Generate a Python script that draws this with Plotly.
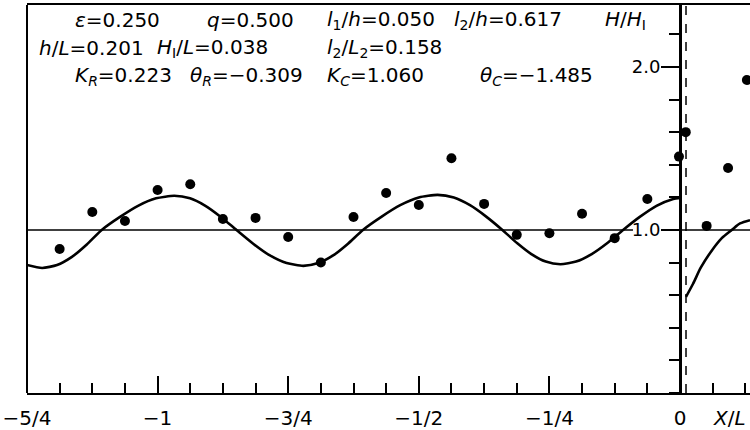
import plotly.graph_objects as go

# ---------------- data ----------------
dots_x = [-1.1875, -1.125, -1.0625, -1.0, -0.9375, -0.875, -0.8125, -0.75, -0.6875, -0.625,
          -0.5625, -0.5, -0.4375, -0.375, -0.3125, -0.25, -0.1875, -0.125, -0.0625, -0.002,
          0.011, 0.051, 0.092, 0.128]
dots_y = [0.883, 1.11, 1.055, 1.245, 1.28, 1.067, 1.074, 0.957, 0.80, 1.08,
          1.227, 1.153, 1.44, 1.16, 0.97, 0.98, 1.10, 0.95, 1.19, 1.45,
          1.60, 1.025, 1.38, 1.92]

curve_left_x = [-1.25, -1.221, -1.1925, -1.164, -1.1355, -1.107,
                -1.072, -1.0375, -1.003, -0.968,
                -0.938, -0.9085, -0.879, -0.849,
                -0.817, -0.785, -0.753, -0.721,
                -0.6925, -0.664, -0.6355, -0.607,
                -0.571, -0.5355, -0.500, -0.464,
                -0.433, -0.402, -0.371, -0.340,
                -0.312, -0.2845, -0.257, -0.229,
                -0.199, -0.169, -0.139, -0.109,
                -0.077, -0.045, -0.013, 0.0]
curve_left_y = [0.785, 0.767, 0.785, 0.835, 0.911, 1.0,
                1.080, 1.148, 1.194, 1.21,
                1.194, 1.148, 1.080, 1.0,
                0.916, 0.844, 0.797, 0.78,
                0.797, 0.844, 0.916, 1.0,
                1.082, 1.152, 1.199, 1.215,
                1.199, 1.152, 1.082, 1.0,
                0.920, 0.852, 0.806, 0.79,
                0.806, 0.852, 0.920, 1.0,
                1.080, 1.148, 1.190, 1.197]

curve_right_x = [0.0115, 0.025, 0.04, 0.06, 0.08, 0.099, 0.115, 0.134]
curve_right_y = [0.59, 0.67, 0.77, 0.87, 0.95, 1.0, 1.04, 1.06]

x_tick_vals = [-1.25, -1.0, -0.75, -0.5, -0.25, 0.0]
x_tick_text = ["−5/4", "−1", "−3/4", "−1/2", "−1/4", "0"]
y_tick_vals = [1.0, 2.0]
y_tick_text = ["1.0", "2.0"]

param_rows = [
    ["<i>ε</i>=0.250", "<i>q</i>=0.500", "<i>l</i><sub>1</sub>/<i>h</i>=0.050",
     "<i>l</i><sub>2</sub>/<i>h</i>=0.617", "<i>H</i>/<i>H</i><sub>I</sub>"],
    ["<i>h</i>/<i>L</i>=0.201", "<i>H</i><sub>I</sub>/<i>L</i>=0.038",
     "<i>l</i><sub>2</sub>/<i>L</i><sub>2</sub>=0.158"],
    ["<i>K</i><sub><i>R</i></sub>=0.223", "<i>θ</i><sub><i>R</i></sub>=−0.309",
     "<i>K</i><sub><i>C</i></sub>=1.060", "<i>θ</i><sub><i>C</i></sub>=−1.485"],
]
param_px = [[73, 205, 325, 452, 603], [37, 155, 325], [73, 188, 325, 478]]
row_py = [20, 48, 76]

X_MIN, X_MAX = -1.25, 0.134
Y_MIN, Y_MAX = 0.0, 2.38
ZERO_DASH = 0.0115

W, H = 750, 430
ML, MR, MT, MB = 27, 0, 5, 37
PW, PH = W - ML - MR, H - MT - MB

FONT = "DejaVu Sans"

fig = go.Figure()

fig.add_trace(go.Scatter(x=curve_left_x, y=curve_left_y, mode="lines",
                         line=dict(color="black", width=2.6, shape="spline", smoothing=0.6),
                         showlegend=False, hoverinfo="skip"))
fig.add_trace(go.Scatter(x=curve_right_x, y=curve_right_y, mode="lines",
                         line=dict(color="black", width=2.6, shape="spline", smoothing=0.8),
                         showlegend=False, hoverinfo="skip"))
fig.add_trace(go.Scatter(x=dots_x, y=dots_y, mode="markers",
                         marker=dict(color="black", size=10), showlegend=False))

# horizontal reference line at 1.0 (gap for label)
fig.add_shape(type="line", x0=X_MIN, x1=-0.09, y0=1.0, y1=1.0, line=dict(color="black", width=1.5))
fig.add_shape(type="line", x0=0.0, x1=X_MAX, y0=1.0, y1=1.0, line=dict(color="black", width=1.5))
# dashed line just right of 0
fig.add_shape(type="line", x0=ZERO_DASH, x1=ZERO_DASH, y0=Y_MIN, y1=Y_MAX,
              line=dict(color="black", width=1.5, dash="dash"))
# left frame
fig.add_shape(type="line", xref="paper", yref="paper", x0=0, x1=0, y0=0, y1=1,
              line=dict(color="black", width=2))

def px2paper_x(px):
    return (px - ML) / PW

def py2paper_y(py):
    return (H - MB - py) / PH

for row, pxs, py in zip(param_rows, param_px, row_py):
    for txt, px in zip(row, pxs):
        fig.add_annotation(text=txt, xref="paper", yref="paper",
                           x=px2paper_x(px), y=py2paper_y(py), xanchor="left", yanchor="middle",
                           showarrow=False, font=dict(family=FONT, size=20, color="black"))

fig.add_annotation(text="<i>X</i>/<i>L</i>", xref="paper", yref="paper",
                   x=px2paper_x(711), y=py2paper_y(418), xanchor="left", yanchor="middle",
                   showarrow=False, font=dict(family=FONT, size=20, color="black"))

y_pos = (0 - X_MIN) / (X_MAX - X_MIN)

fig.update_layout(
    width=W, height=H,
    margin=dict(l=ML, r=MR, t=MT, b=MB),
    paper_bgcolor="white", plot_bgcolor="white",
    xaxis=dict(range=[X_MIN, X_MAX], showgrid=False, zeroline=False,
               showline=True, linecolor="black", linewidth=2, mirror=True,
               ticks="inside", ticklen=17, tickwidth=1.5, tickcolor="black",
               tickvals=x_tick_vals, ticktext=x_tick_text, ticklabelstandoff=6,
               tickfont=dict(family=FONT, size=20, color="black"),
               minor=dict(dtick=0.0625, tick0=0, ticks="inside", ticklen=10,
                          tickwidth=1.5, tickcolor="black", showgrid=False)),
    yaxis=dict(range=[Y_MIN, Y_MAX], showgrid=False, zeroline=False,
               anchor="free", position=y_pos, side="left",
               showline=True, linecolor="black", linewidth=3,
               ticks="outside", ticklen=18, tickwidth=1.5, tickcolor="black",
               tickvals=y_tick_vals, ticktext=y_tick_text, ticklabelstandoff=-3,
               tickfont=dict(family=FONT, size=18, color="black"),
               minor=dict(dtick=0.2, tick0=0, ticks="outside", ticklen=10,
                          tickwidth=1.5, tickcolor="black", showgrid=False)),
)

fig.write_html("out.html")
